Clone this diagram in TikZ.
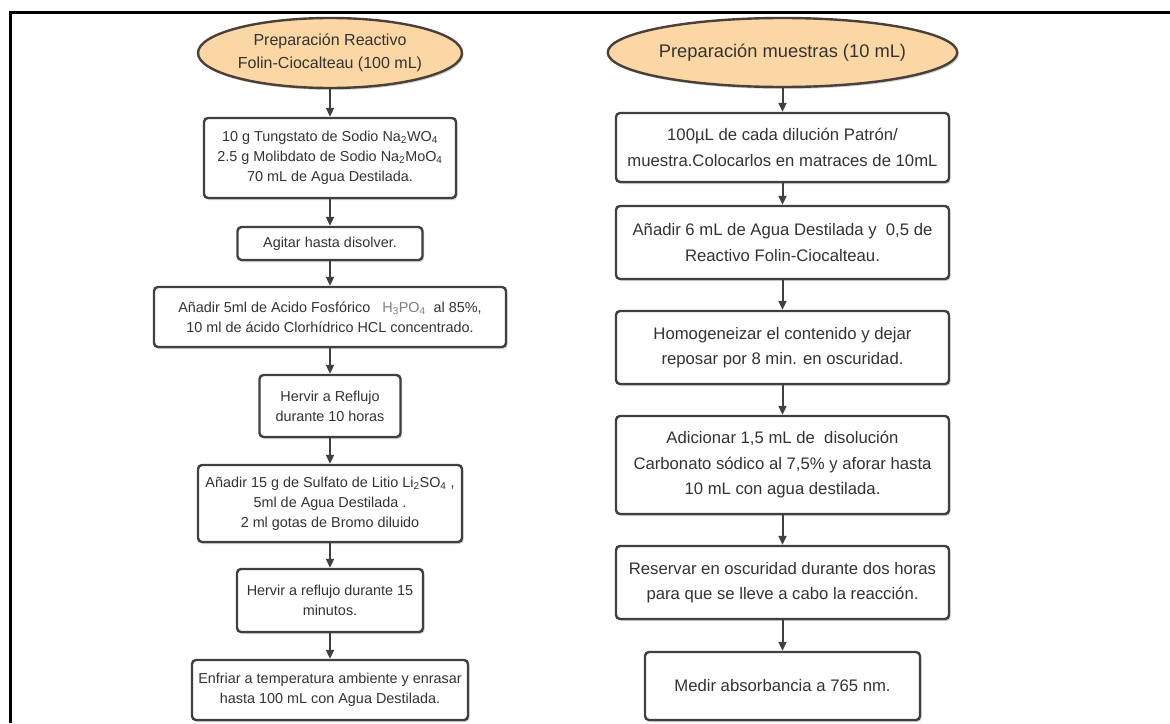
\documentclass[tikz,border=0pt]{standalone}
\usepackage{fontspec}
\setmainfont{Liberation Sans}
\usetikzlibrary{shapes.geometric,shadows,arrows.meta}
\definecolor{boxc}{HTML}{404040}
\definecolor{txtc}{HTML}{333333}
\definecolor{orfill}{HTML}{FCD7A6}
\definecolor{elc}{HTML}{4A4038}
\definecolor{arrc}{HTML}{404040}
\tikzset{
  shad/.style={drop shadow={shadow xshift=1.5pt,shadow yshift=-2pt,opacity=0.18,fill=black}},
  lbox/.style={draw=boxc,line width=2.4pt,rounded corners=4pt,fill=white,align=center,
     text=txtc,inner sep=0pt,shad,font=\fontsize{14.4}{20}\selectfont},
  rbox/.style={draw=boxc,line width=2.4pt,rounded corners=4pt,fill=white,align=center,
     text=txtc,inner sep=0pt,shad,font=\fontsize{16.7}{25.5}\selectfont},
  term/.style={ellipse,draw=elc,line width=2.4pt,fill=orfill,align=center,text=txtc,inner sep=0pt,shad},
  arr/.style={draw=arrc,line width=2pt,-{Triangle[width=8pt,length=9pt]}}
}
\begin{document}
\begin{tikzpicture}[x=1pt,y=-1pt]
\useasboundingbox (0,0) rectangle (1170,723);
% frame
\draw[line width=3pt,black] (10.5,723) -- (10.5,12.5) -- (1170,12.5);
% left column
\node[term,minimum width=264pt,minimum height=70pt,font=\fontsize{16}{23}\selectfont] (e1) at (330,53)
  {Preparación Reactivo\\Folin-Ciocalteau (100 mL)};
\node[lbox,minimum width=252pt,minimum height=80pt] (b1) at (330,158)
  {10 g Tungstato de Sodio Na\textsubscript{2}WO\textsubscript{4}\\2.5 g Molibdato de Sodio Na\textsubscript{2}MoO\textsubscript{4}\\70 mL de Agua Destilada.};
\node[lbox,minimum width=185pt,minimum height=33pt] (b2) at (330,243.5)
  {Agitar hasta disolver.};
\node[lbox,minimum width=352pt,minimum height=60pt] (b3) at (330,317)
  {Añadir 5ml de Acido Fosfórico\ \ \ {\color{gray}H\textsubscript{3}PO\textsubscript{4}}\ \ al 85\%,\\10 ml de ácido Clorhídrico HCL concentrado.};
\node[lbox,minimum width=141pt,minimum height=62pt] (b4) at (330,406)
  {Hervir a Reflujo\\durante 10 horas};
\node[lbox,minimum width=264pt,minimum height=77pt] (b5) at (330,503.5)
  {Añadir 15 g de Sulfato de Litio Li\textsubscript{2}SO\textsubscript{4} ,\\5ml de Agua Destilada .\\2 ml gotas de Bromo diluido};
\node[lbox,minimum width=186pt,minimum height=63pt] (b6) at (330,600.5)
  {Hervir a reflujo durante 15\\minutos.};
\node[lbox,minimum width=276pt,minimum height=60pt] (b7) at (330,690)
  {Enfriar a temperatura ambiente y enrasar\\hasta 100 mL con Agua Destilada.};
% right column
\node[term,minimum width=303pt,minimum height=69pt,font=\fontsize{18.3}{24}\selectfont] (e2) at (782.5,52.5)
  {Preparación muestras (10 mL)};
\node[rbox,minimum width=333pt,minimum height=69pt] (r1) at (782.5,147.5)
  {100µL de cada dilución Patrón/\\muestra.Colocarlos en matraces de 10mL};
\node[rbox,minimum width=333pt,minimum height=73pt] (r2) at (782.5,242.5)
  {Añadir 6 mL de Agua Destilada y \ 0,5 de\\Reactivo Folin-Ciocalteau.};
\node[rbox,minimum width=333pt,minimum height=73pt] (r3) at (782.5,347.5)
  {Homogeneizar el contenido y dejar\\reposar por 8 min. en oscuridad.};
\node[rbox,minimum width=333pt,minimum height=98pt] (r4) at (782.5,465)
  {Adicionar 1,5 mL de \ disolución\\Carbonato sódico al 7,5\% y aforar hasta\\10 mL con agua destilada.};
\node[rbox,minimum width=333pt,minimum height=73pt] (r5) at (782.5,582.5)
  {Reservar en oscuridad durante dos horas\\para que se lleve a cabo la reacción.};
\node[rbox,minimum width=275pt,minimum height=68pt] (r6) at (782.5,686)
  {Medir absorbancia a 765 nm.};
% arrows
\draw[arr] (e1.south) -- (b1.north);
\draw[arr] (b1.south) -- (b2.north);
\draw[arr] (b2.south) -- (b3.north);
\draw[arr] (b3.south) -- (b4.north);
\draw[arr] (b4.south) -- (b5.north);
\draw[arr] (b5.south) -- (b6.north);
\draw[arr] (b6.south) -- (b7.north);
\draw[arr] (e2.south) -- (r1.north);
\draw[arr] (r1.south) -- (r2.north);
\draw[arr] (r2.south) -- (r3.north);
\draw[arr] (r3.south) -- (r4.north);
\draw[arr] (r4.south) -- (r5.north);
\draw[arr] (r5.south) -- (r6.north);
\end{tikzpicture}
\end{document}
